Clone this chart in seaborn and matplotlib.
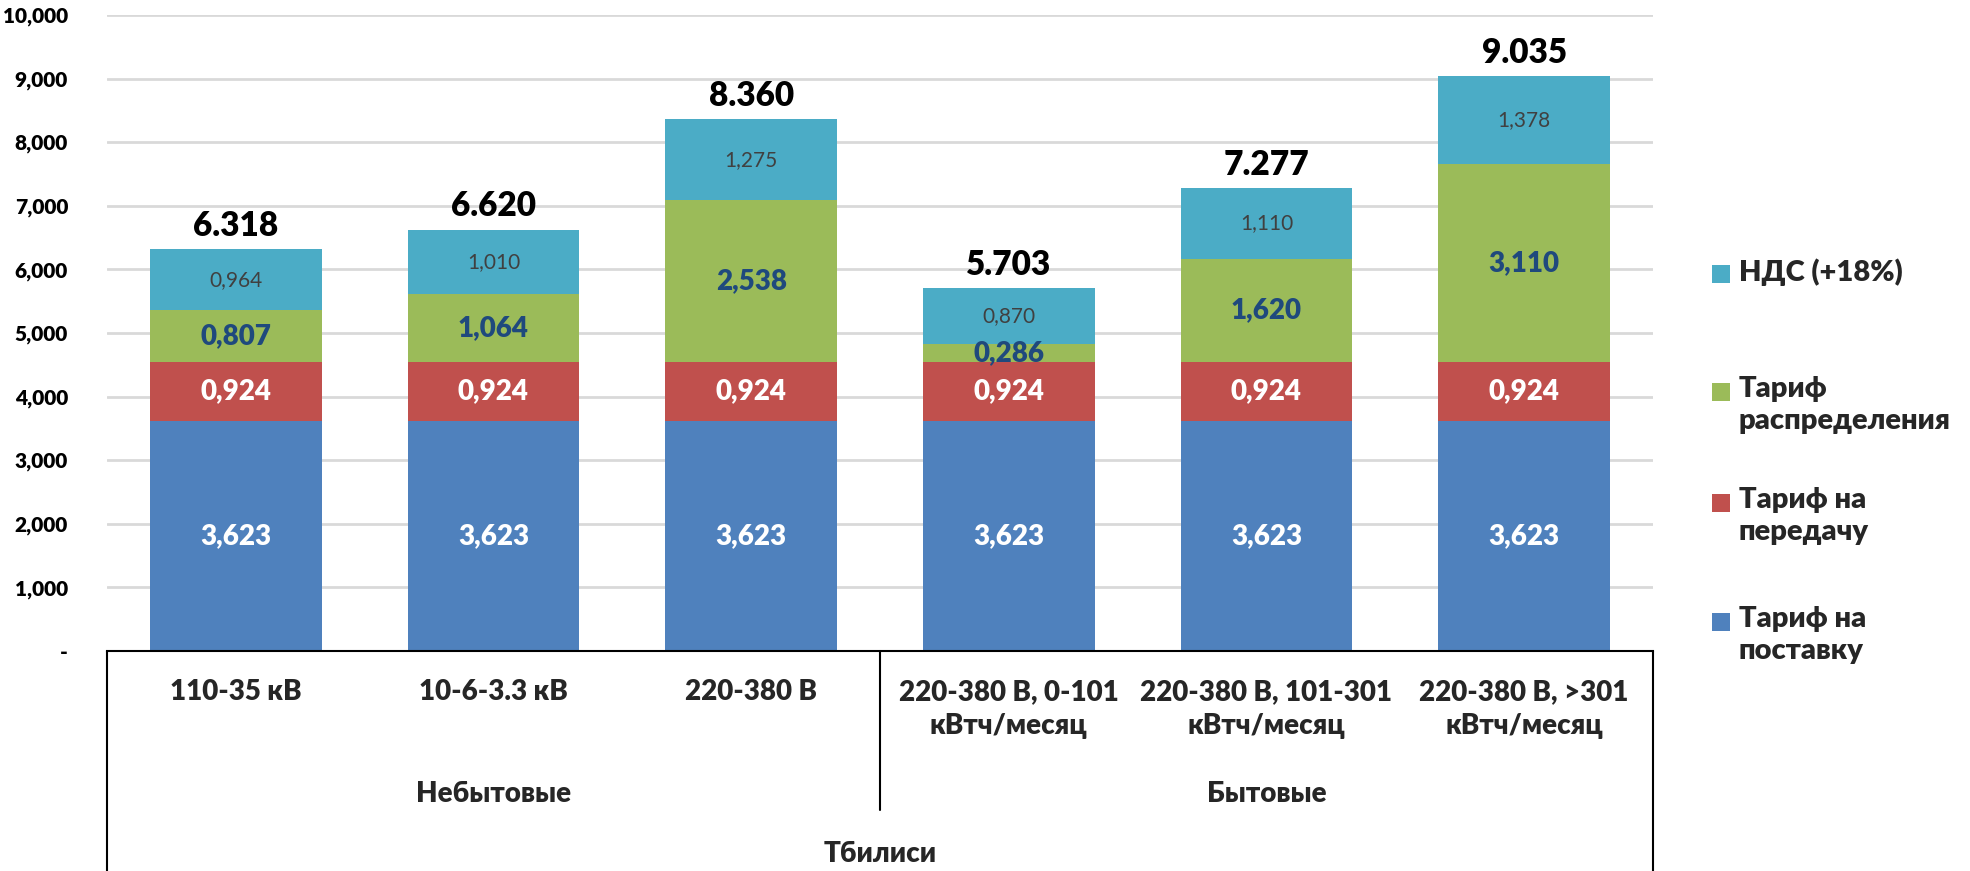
import matplotlib
matplotlib.use("Agg")
import matplotlib.pyplot as plt
from matplotlib.patches import Rectangle
import numpy as np
import pandas as pd
import seaborn as sns

# Tariff components, GEL cents per kWh (Tbilisi)
categories = ["110-35 кВ", "10-6-3.3 кВ", "220-380 В",
              "220-380 В, 0-101\nкВтч/месяц", "220-380 В, 101-301\nкВтч/месяц",
              "220-380 В, >301\nкВтч/месяц"]
groups = ["Небытовые", "Бытовые"]
group_sizes = [3, 3]
region = "Тбилиси"

supply = [3.623, 3.623, 3.623, 3.623, 3.623, 3.623]
transmission = [0.924, 0.924, 0.924, 0.924, 0.924, 0.924]
distribution = [0.807, 1.064, 2.538, 0.286, 1.620, 3.110]
vat = [0.964, 1.010, 1.275, 0.870, 1.110, 1.378]
totals = [6.318, 6.620, 8.360, 5.703, 7.277, 9.035]

series_names = ["Тариф на\nпоставку", "Тариф на\nпередачу", "Тариф\nраспределения", "НДС (+18%)"]
colors = ["#4F81BD", "#C0504D", "#9BBB59", "#4BACC6"]

sns.set_theme(style="white")
FONT = ["Lato", "Open Sans", "DejaVu Sans"]
plt.rcParams["font.family"] = FONT
BOLD = "heavy"

fig = plt.figure(figsize=(19.70, 8.71), dpi=100)
ax = fig.add_axes([107 / 1970, 1 - 651 / 871, (1653 - 107) / 1970, (651 - 15) / 871])

layers = [supply, transmission, distribution, vat]
cum = np.cumsum(np.array(layers), axis=0)
df = pd.DataFrame({"cat": categories})

# draw from the top of the stack down so each segment overlays the previous one
for i in range(len(layers) - 1, -1, -1):
    df["v"] = cum[i]
    sns.barplot(data=df, x="cat", y="v", color=colors[i], saturation=1,
                width=0.665, ax=ax, linewidth=0, zorder=2)

ax.set_ylim(0, 10)
ax.set_xlim(-0.5, len(categories) - 0.5)
ax.set_yticks(np.arange(0, 11, 1))
ax.set_yticklabels(["-" if v == 0 else f"{v:,.3f}".replace(".", ",") for v in range(0, 11)],
                   fontsize=15, fontweight=BOLD, color="black")
ax.tick_params(axis="y", length=0, pad=28)
ax.grid(axis="y", color="#D9D9D9", linewidth=2, zorder=0)
ax.set_axisbelow(True)
for s in ["top", "right", "left"]:
    ax.spines[s].set_visible(False)
ax.spines["bottom"].set_color("black")
ax.spines["bottom"].set_linewidth(1.5)
ax.set_xlabel("")
ax.set_ylabel("")
ax.set_xticks(range(len(categories)))
ax.set_xticklabels([])
ax.tick_params(axis="x", length=0)

def fmt(v):
    return f"{v:.3f}".replace(".", ",")

# segment labels
for j in range(len(categories)):
    base = 0.0
    for i, vals in enumerate(layers):
        v = vals[j]
        mid = base + v / 2
        if i < 2:
            ax.text(j, mid, fmt(v), ha="center", va="center", color="white",
                    fontsize=20, fontweight=BOLD, zorder=5)
        elif i == 2:
            ax.text(j, mid, fmt(v), ha="center", va="center", color="#1F497D",
                    fontsize=20, fontweight=BOLD, zorder=5)
        else:
            ax.text(j, mid, fmt(v), ha="center", va="center", color="#404040",
                    fontsize=15, zorder=5)
        base += v
    ax.text(j, totals[j] + 0.12, f"{totals[j]:.3f}", ha="center", va="bottom",
            color="black", fontsize=24, fontweight=BOLD, zorder=5)

# multi-level category axis
axh = 636.0
def ya(ypix):
    return -(ypix - 651) / axh

trans = ax.get_xaxis_transform()
n = len(categories)
line_kw = dict(color="black", linewidth=1.5, clip_on=False, transform=trans)
ax.plot([-0.5, -0.5], [0, ya(871)], **line_kw)
ax.plot([n - 0.5, n - 0.5], [0, ya(871)], **line_kw)
ax.plot([2.5, 2.5], [0, ya(810)], **line_kw)

for j, lab in enumerate(categories):
    ax.text(j, ya(679), lab, ha="center", va="top", transform=trans,
            fontsize=20, fontweight=BOLD, linespacing=1.4, clip_on=False)
start = 0
for g, size in zip(groups, group_sizes):
    ax.text(start + (size - 1) / 2, ya(794), g, ha="center", va="center",
            transform=trans, fontsize=20, fontweight=BOLD, clip_on=False)
    start += size
ax.text((n - 1) / 2, ya(854), region, ha="center", va="center",
        transform=trans, fontsize=20, fontweight=BOLD, clip_on=False)

# legend
W, H = 1970.0, 871.0
legend_items = [(3, 265), (2, 383), (1, 494), (0, 613)]
for idx, ytop in legend_items:
    fig.patches.append(Rectangle((1712 / W, 1 - (ytop + 18) / H), 18 / W, 18 / H,
                                 transform=fig.transFigure, facecolor=colors[idx],
                                 edgecolor="none"))
    fig.text(1739 / W, 1 - (ytop - 7) / H, series_names[idx], ha="left", va="top",
             fontsize=21, fontweight=BOLD, linespacing=1.3)

fig.savefig("out.png", dpi=100)
